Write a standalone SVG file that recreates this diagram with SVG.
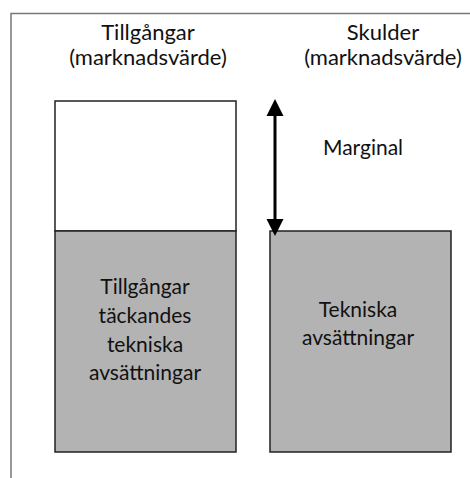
<svg xmlns="http://www.w3.org/2000/svg" width="470" height="478" viewBox="0 0 470 478">
<style>
text{font-family:"Lato","Open Sans","DejaVu Sans",sans-serif;font-size:21px;fill:#111;text-anchor:middle}
.hd{font-size:22px}
.box{stroke:#222;stroke-width:1.5}
</style>
<rect width="470" height="478" fill="#fff"/>
<path d="M11,478 V13.5 H470" fill="none" stroke="#777" stroke-width="1.5"/>
<g id="header-assets">
<text class="hd" x="148" y="40">Tillgångar</text>
<text class="hd" x="148" y="65">(marknadsvärde)</text>
</g>
<g id="header-liabilities">
<text class="hd" x="383" y="40">Skulder</text>
<text class="hd" x="383" y="65">(marknadsvärde)</text>
</g>
<g id="assets-box">
<rect class="box" x="55" y="101" width="181" height="130" fill="#fff"/>
<rect class="box" x="55" y="231" width="181" height="221" fill="#b3b3b3"/>
<text x="145" y="294">Tillgångar</text>
<text x="145" y="323">täckandes</text>
<text x="145" y="352">tekniska</text>
<text x="145" y="380">avsättningar</text>
</g>
<g id="liabilities-box">
<rect class="box" x="270" y="231" width="181" height="221" fill="#b3b3b3"/>
<text x="358" y="317">Tekniska</text>
<text x="358" y="345">avsättningar</text>
</g>
<g id="margin-label">
<text x="363" y="155">Marginal</text>
</g>
<g id="connectors">
<line x1="275" y1="116" x2="275" y2="219" stroke="#000" stroke-width="3"/>
<path d="M275,99 L283.5,116 L266.5,116 z" fill="#000"/>
<path d="M275,236 L283.5,219 L266.5,219 z" fill="#000"/>
</g>
</svg>
